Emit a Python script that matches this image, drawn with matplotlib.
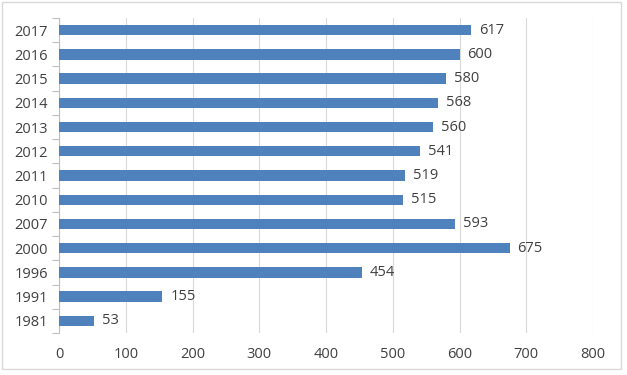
import matplotlib.pyplot as plt
from matplotlib.patches import Rectangle
import numpy as np

years = ['1981', '1991', '1996', '2000', '2007', '2010', '2011',
         '2012', '2013', '2014', '2015', '2016', '2017']
values = [53, 155, 454, 675, 593, 515, 519, 541, 560, 568, 580, 600, 617]
xticks = [0, 100, 200, 300, 400, 500, 600, 700, 800]

plt.rcParams['font.family'] = ['Open Sans', 'DejaVu Sans']
txt = '#404040'
blue = '#4F81BD'

fig = plt.figure(figsize=(6.27, 3.75), dpi=100)
ax = fig.add_axes([59/627, 1 - 333/375, (593 - 59)/627, (333 - 18)/375])

y = np.arange(len(years))
ax.barh(y, values, height=0.43, color=blue, zorder=3)
for yi, v in zip(y, values):
    ax.text(v + 12, yi, str(v), va='center', ha='left', fontsize=10.5, color=txt)

ax.set_xlim(0, 800)
ax.set_ylim(-0.5, len(years) - 0.5)
ax.set_xticks(xticks)
ax.set_xticklabels([str(t) for t in xticks])
ax.set_yticks(y)
ax.set_yticklabels(years)
ax.set_yticks(np.arange(len(years) + 1) - 0.5, minor=True)

ax.grid(axis='x', color='#D9D9D9', linewidth=0.8, zorder=0)
for s in ['top', 'right', 'bottom']:
    ax.spines[s].set_visible(False)
ax.spines['left'].set_color('#BFBFBF')
ax.spines['left'].set_linewidth(0.8)

ax.tick_params(axis='x', length=0, pad=10, labelsize=10.5, labelcolor=txt)
ax.tick_params(axis='y', which='major', length=0, pad=8, labelsize=10.5, labelcolor=txt)
ax.tick_params(axis='y', which='minor', length=5, color='#BFBFBF', width=0.8)

fig.patches.append(Rectangle((2/627, 1 - 369/375), 619/627, 367/375,
                             transform=fig.transFigure, fill=False,
                             edgecolor='#D9D9D9', linewidth=1))

fig.savefig('out.png', dpi=100)
